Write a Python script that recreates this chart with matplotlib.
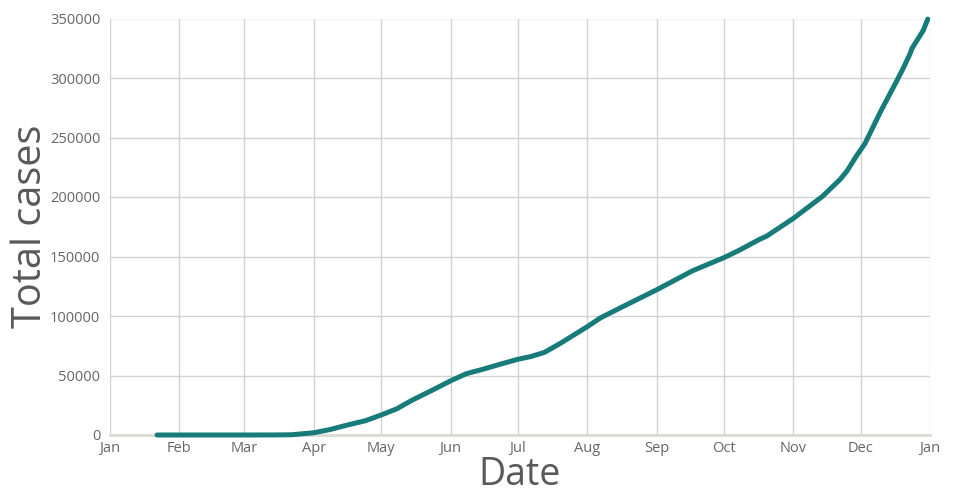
import matplotlib
matplotlib.use("Agg")
import matplotlib.pyplot as plt
import pandas as pd

plt.rcParams['font.family'] = ['Open Sans', 'DejaVu Sans']

dates = ["2020-01-22", "2020-02-15", "2020-03-01", "2020-03-15", "2020-03-22",
         "2020-04-01", "2020-04-08", "2020-04-16", "2020-04-24", "2020-05-01",
         "2020-05-08", "2020-05-15", "2020-05-24", "2020-06-01", "2020-06-08",
         "2020-06-15", "2020-06-23", "2020-07-01", "2020-07-07", "2020-07-13",
         "2020-07-20", "2020-08-01", "2020-08-07", "2020-08-17", "2020-09-01",
         "2020-09-17", "2020-10-01", "2020-10-08", "2020-10-17", "2020-10-20",
         "2020-11-01", "2020-11-14", "2020-11-22", "2020-11-25", "2020-11-29",
         "2020-12-03", "2020-12-10", "2020-12-17", "2020-12-20", "2020-12-23",
         "2020-12-24", "2020-12-26", "2020-12-29", "2020-12-31"]
total_cases = [0, 0, 0, 50, 200,
               1900, 4500, 8400, 12000, 16800,
               22000, 29400, 37800, 45500, 51500,
               55000, 59400, 63600, 66000, 69500,
               77000, 91000, 98500, 108000, 122000,
               138000, 149000, 155400, 164500, 167000,
               182000, 200500, 215000, 222000, 234000,
               245000, 272000, 297000, 308000, 320000,
               325000, 331000, 340000, 349500]
y_ticks = [0, 50000, 100000, 150000, 200000, 250000, 300000, 350000]
month_labels = ["Jan", "Feb", "Mar", "Apr", "May", "Jun", "Jul", "Aug",
                "Sep", "Oct", "Nov", "Dec", "Jan"]

x = pd.to_datetime(dates)

fig = plt.figure(figsize=(9.6, 5), dpi=100)
ax = fig.add_axes([110/960, 1-435/500, 820/960, (435-18.5)/500])

ax.plot(x, total_cases, color="#177b7a", lw=3.6, solid_capstyle="round",
        solid_joinstyle="round", zorder=3, clip_on=False)

month_ticks = pd.date_range("2020-01-01", "2021-01-01", freq="MS")
ax.set_xlim(month_ticks[0], month_ticks[-1])
ax.set_xticks(month_ticks)
ax.set_xticklabels(month_labels)
ax.set_ylim(0, 350000)
ax.set_yticks(y_ticks)
ax.set_yticklabels([str(v) for v in y_ticks])

ax.grid(True, color="#d2d2d2", lw=1.0, zorder=0)
for s in ["left", "right", "top"]:
    ax.spines[s].set_visible(False)
ax.spines["bottom"].set_color("#dcdcd6")
ax.spines["bottom"].set_linewidth(2)
ax.tick_params(length=0, labelsize=10.5, labelcolor="#666666")
ax.tick_params(axis="y", pad=7)
ax.tick_params(axis="x", pad=4)

ax.set_xlabel("Date", fontsize=27, color="#595959", labelpad=0)
ax.set_ylabel("Total cases", fontsize=28.5, color="#595959", labelpad=-1)

fig.savefig("out.png", dpi=100)
